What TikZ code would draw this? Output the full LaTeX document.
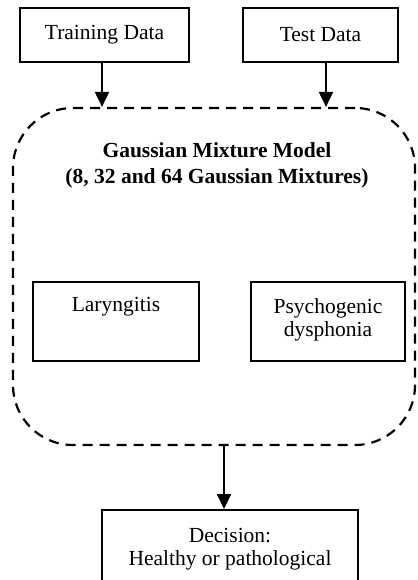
\documentclass[tikz,border=0pt]{standalone}
\usepackage{fontspec}
\setmainfont{Liberation Serif}
\usetikzlibrary{arrows.meta}
\begin{document}
\begin{tikzpicture}[x=1pt,y=-1pt,
  box/.style={draw,line width=2pt,inner sep=0pt,align=center},
  txt/.style={inner sep=0pt,align=center,font=\fontsize{21.5}{23}\selectfont},
  arr/.style={line width=2pt,-{Triangle[width=14pt,length=15pt]}},
  dashbox/.style={draw,line width=2.2pt,dash pattern=on 10pt off 7pt,rounded corners=60pt,inner sep=0pt}]
\useasboundingbox (0,0) rectangle (417,580);
\node[box,minimum width=169pt,minimum height=54pt,font=\fontsize{21.5}{24}\selectfont] (train) at (104.5,35) {Training Data};
\node[box,minimum width=155pt,minimum height=54pt,font=\fontsize{21.5}{24}\selectfont] (test) at (320.5,35) {Test Data};
\node[dashbox,minimum width=402pt,minimum height=337pt] (gmm) at (214,276.5) {};
\node[txt,font=\fontsize{21.5}{26}\selectfont\bfseries] (title) at (217,165) {Gaussian Mixture Model\\(8, 32 and 64 Gaussian Mixtures)};
\node[box,minimum width=166pt,minimum height=79pt] (lar) at (116,321.5) {};
\node[txt] (lartext) at (116,307) {Laryngitis};
\node[box,minimum width=154pt,minimum height=79pt] (psy) at (328,321.5) {};
\node[txt] (psytext) at (328,319.5) {Psychogenic\\dysphonia};
\node[box,minimum width=256pt,minimum height=79pt,font=\fontsize{21.5}{23}\selectfont] (dec) at (230,549.5) {Decision:\\Healthy or pathological};
\coordinate (ta) at (102,62);
\coordinate (tb) at (326,62);
\coordinate (gb) at (224,445);
\draw[arr] (ta) -- (ta |- gmm.north);
\draw[arr] (tb) -- (tb |- gmm.north);
\draw[arr] (gb) -- (gb |- dec.north);
\end{tikzpicture}
\end{document}
